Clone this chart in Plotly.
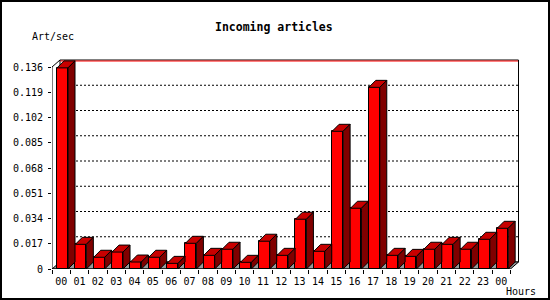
import plotly.graph_objects as go

# ---- data ----
hours = ["00", "01", "02", "03", "04", "05", "06", "07", "08", "09", "10", "11",
         "12", "13", "14", "15", "16", "17", "18", "19", "20", "21", "22", "23", "00"]
rates = [0.1354, 0.0166, 0.0079, 0.0114, 0.0047, 0.0079, 0.0038, 0.0173, 0.0092,
         0.0133, 0.0045, 0.0187, 0.0092, 0.0335, 0.0119, 0.0927, 0.0409, 0.1223,
         0.0092, 0.0085, 0.0133, 0.0166, 0.0133, 0.0200, 0.0274]
ytick_vals = [0, 0.017, 0.034, 0.051, 0.068, 0.085, 0.102, 0.119, 0.136]
ytick_text = ["0", "0.017", "0.034", "0.051", "0.068", "0.085", "0.102", "0.119", "0.136"]
title_text = "Incoming articles"
y_label = "Art/sec"
x_label = "Hours"

# ---- geometry (pixel -> data conversions) ----
W, H = 550, 300
X0PX, PITCH = 52.0, 18.34          # x px of category 0 boundary, px per category
Y0PX, YSCALE = 269.0, 1485.3        # y px of value 0, px per unit
XRPX, YTPX = 522.0, 58.0            # right / top edges of plotting area
n = len(rates)
ymax = ytick_vals[-1]
DX = 7.0 / PITCH                    # 3D depth in x units
DY = 7.0 / YSCALE                   # 3D depth in y units
DXW = 8.0 / PITCH                   # wall depth
BAR_OFF = 5.0 / PITCH
BAR_W = 11.0 / PITCH

FRONT = "#ff0000"
TOP = "#c80000"
SIDE = "#800000"
FLOOR = "#999999"
FONT = "DejaVu Sans Mono"

fig = go.Figure()

# front faces as bars
fig.add_trace(go.Bar(
    x=[i + BAR_OFF + BAR_W / 2 for i in range(n)], y=rates, width=BAR_W,
    marker=dict(color=FRONT, line=dict(color="black", width=1)),
    hoverinfo="skip", showlegend=False))

# top and side faces
tx, ty, sx, sy = [], [], [], []
for i, v in enumerate(rates):
    xl = i + BAR_OFF
    xr = xl + BAR_W
    tx += [xl, xr, xr + DX, xl + DX, xl, None]
    ty += [v, v, v + DY, v + DY, v, None]
    sx += [xr, xr + DX, xr + DX, xr, xr, None]
    sy += [0, DY, v + DY, v, 0, None]
fig.add_trace(go.Scatter(x=tx, y=ty, mode="lines", fill="toself", fillcolor=TOP,
                         line=dict(color="black", width=1), hoverinfo="skip", showlegend=False))
fig.add_trace(go.Scatter(x=sx, y=sy, mode="lines", fill="toself", fillcolor=SIDE,
                         line=dict(color="black", width=1), hoverinfo="skip", showlegend=False))

shapes = []
# back wall
shapes.append(dict(type="rect", xref="x", yref="y", x0=DXW, x1=n + DXW, y0=DY, y1=ymax + DY,
                   fillcolor="white", line=dict(color="black", width=1), layer="below"))
# dotted grid on back wall
for v in ytick_vals[1:-1]:
    shapes.append(dict(type="line", xref="x", yref="y", x0=DXW, x1=n + DXW, y0=v + DY, y1=v + DY,
                       line=dict(color="black", width=1, dash="2px,2px"), layer="below"))
# red line under top edge
shapes.append(dict(type="line", xref="x", yref="y", x0=DXW + 0.5 / PITCH, x1=n + DXW - 0.5 / PITCH,
                   y0=ymax + DY - 1.0 / YSCALE, y1=ymax + DY - 1.0 / YSCALE,
                   line=dict(color="#ff0000", width=1), layer="below"))
# floor
shapes.append(dict(type="path", xref="x", yref="y",
                   path=f"M0,0 L{n},0 L{n + DXW},{DY} L{DXW},{DY} Z",
                   fillcolor=FLOOR, line=dict(color="black", width=1), layer="below"))
# front axes lines + corner diagonals
shapes.append(dict(type="line", xref="x", yref="y", x0=0, x1=0, y0=0, y1=ymax,
                   line=dict(color="black", width=1)))
shapes.append(dict(type="line", xref="x", yref="y", x0=0, x1=DXW, y0=ymax, y1=ymax + DY,
                   line=dict(color="black", width=1)))
shapes.append(dict(type="line", xref="x", yref="y", x0=0, x1=n, y0=0, y1=0,
                   line=dict(color="black", width=1)))
# image border
shapes.append(dict(type="rect", xref="paper", yref="paper", x0=0, x1=1, y0=0, y1=1,
                   line=dict(color="black", width=4)))

annotations = [
    dict(text=f"<b>{title_text}</b>", xref="paper", yref="paper", x=274 / W, y=1 - 27 / H,
         xanchor="center", yanchor="middle", showarrow=False,
         font=dict(family=FONT, size=11.5, color="black")),
    dict(text=y_label, xref="paper", yref="paper", x=30 / W, y=1 - 37 / H,
         xanchor="left", yanchor="middle", showarrow=False,
         font=dict(family=FONT, size=10, color="black")),
    dict(text=x_label, xref="paper", yref="paper", x=504 / W, y=1 - 291 / H,
         xanchor="left", yanchor="middle", showarrow=False,
         font=dict(family=FONT, size=10, color="black")),
]

fig.update_layout(
    width=W, height=H, autosize=False,
    margin=dict(l=0, r=0, t=0, b=0, pad=0, autoexpand=False),
    paper_bgcolor="white", plot_bgcolor="white",
    showlegend=False, bargap=0,
    shapes=shapes, annotations=annotations,
    xaxis=dict(domain=[X0PX / W, XRPX / W], range=[0, (XRPX - X0PX) / PITCH],
               automargin=False,
               tickmode="array", tickvals=[i + 0.5 for i in range(n)], ticktext=hours,
               ticks="", showgrid=False, zeroline=False, showline=False,
               ticklabelstandoff=5,
               tickfont=dict(family=FONT, size=10, color="black"),
               minor=dict(tickmode="array", tickvals=list(range(n + 1)), ticks="outside",
                          ticklen=4, tickcolor="black", tickwidth=1, showgrid=False),
               fixedrange=True),
    yaxis=dict(domain=[1 - Y0PX / H, 1 - YTPX / H], range=[0, (Y0PX - YTPX) / YSCALE],
               automargin=False,
               tickmode="array", tickvals=ytick_vals, ticktext=ytick_text,
               ticks="outside", ticklen=3, tickcolor="black",
               ticklabelstandoff=3,
               showgrid=False, zeroline=False, showline=False,
               tickfont=dict(family=FONT, size=10, color="black"),
               fixedrange=True),
)

fig.write_html("out.html")
